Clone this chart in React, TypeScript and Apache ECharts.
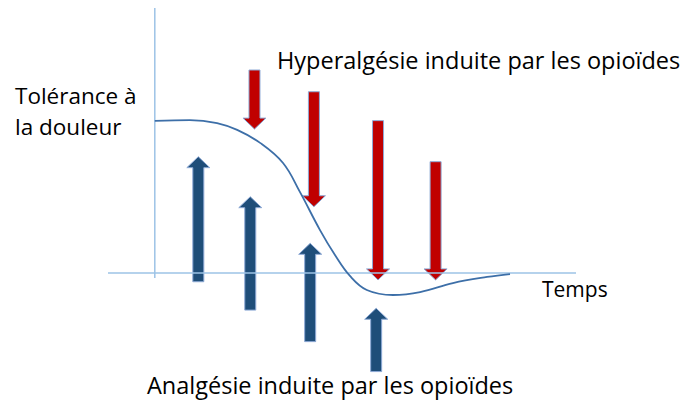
import React, { useEffect, useRef } from "react";
import * as echarts from "echarts";

// Curve: tolerance to pain over time (x: time units, y: tolerance units)
const curveTime = [0, 0.75, 1.33, 1.76, 2.25, 2.74, 3.1, 3.53, 3.85, 4.17, 4.53, 5.09, 5.67, 6.37, 7.1, 7.59];
const curveTolerance = [5.74, 5.77, 5.66, 5.4, 4.91, 4.15, 3.06, 1.62, 0.68, -0.11, -0.64, -0.83, -0.72, -0.38, -0.15, -0.04];

// Red arrows (hyperalgesia): x, start (top), tip (bottom)
const redX = [2.13, 3.4, 4.77, 6.0];
const redStart = [7.66, 6.84, 5.75, 4.2];
const redTip = [5.43, 2.5, -0.26, -0.26];

// Blue arrows (analgesia): x, start (bottom), tip (top)
const blueX = [0.93, 2.04, 3.32, 4.73];
const blueStart = [-0.33, -1.4, -2.59, -3.72];
const blueTip = [4.39, 2.88, 1.12, -1.33];

// Axes extents
const timeAxisRange = [-1, 9];
const toleranceAxisRange = [-0.19, 10];

const FONT = "'Open Sans', sans-serif";

function arrowRenderer(fill: string) {
  return (params: any, api: any) => {
    const x = api.value(0);
    const s = api.coord([x, api.value(1)]);
    const t = api.coord([x, api.value(2)]);
    const cx = s[0];
    const dir = t[1] > s[1] ? 1 : -1;
    const w = 11;
    const hw = 23;
    const hl = 11;
    const hb = t[1] - dir * hl;
    const points = [
      [cx - w / 2, s[1]],
      [cx + w / 2, s[1]],
      [cx + w / 2, hb],
      [cx + hw / 2, hb],
      [cx, t[1]],
      [cx - hw / 2, hb],
      [cx - w / 2, hb],
    ];
    return {
      type: "polygon",
      shape: { points },
      style: { fill, stroke: "#8eaad6", lineWidth: 1 },
    };
  };
}

export default function App() {
  const ref = useRef<HTMLDivElement>(null);
  useEffect(() => {
    if (!ref.current) return;
    const chart = echarts.init(ref.current, undefined, { renderer: "svg" });
    const axisColor = "#9dc3e6";
    chart.setOption({
      animation: false,
      backgroundColor: "#ffffff",
      grid: { left: 108, top: 8, width: 468, height: 371 },
      xAxis: { type: "value", min: -1, max: 9, show: false },
      yAxis: { type: "value", min: -4, max: 10, show: false },
      series: [
        {
          type: "line",
          data: [[0, toleranceAxisRange[1]], [0, toleranceAxisRange[0]]],
          symbol: "none",
          silent: true,
          lineStyle: { color: axisColor, width: 1.5 },
        },
        {
          type: "line",
          data: [[timeAxisRange[0], 0], [timeAxisRange[1], 0]],
          symbol: "none",
          silent: true,
          lineStyle: { color: axisColor, width: 1.5 },
        },
        {
          type: "line",
          data: curveTime.map((t, i) => [t, curveTolerance[i]]),
          smooth: 0.4,
          symbol: "none",
          silent: true,
          lineStyle: { color: "#3d6fa8", width: 1.8 },
        },
        {
          type: "custom",
          renderItem: arrowRenderer("#c00000"),
          data: redX.map((x, i) => [x, redStart[i], redTip[i]]),
          encode: { x: 0, y: [1, 2] },
          silent: true,
        },
        {
          type: "custom",
          renderItem: arrowRenderer("#1f4e79"),
          data: blueX.map((x, i) => [x, blueStart[i], blueTip[i]]),
          encode: { x: 0, y: [1, 2] },
          silent: true,
        },
      ],
      graphic: [
        {
          type: "text",
          left: 277,
          top: 48,
          style: { text: "Hyperalgésie induite par les opioïdes", font: `23.5px ${FONT}`, fill: "#000" },
        },
        {
          type: "text",
          left: 15,
          top: 80,
          style: { text: "Tolérance à\nla douleur", font: `22.5px ${FONT}`, fill: "#000", lineHeight: 31 },
        },
        {
          type: "text",
          left: 542,
          top: 278,
          style: { text: "Temps", font: `21px ${FONT}`, fill: "#000" },
        },
        {
          type: "text",
          left: 147,
          top: 373,
          style: { text: "Analgésie induite par les opioïdes", font: `23.5px ${FONT}`, fill: "#000" },
        },
      ],
    });
    return () => chart.dispose();
  }, []);
  return (
    <div
      ref={ref}
      style={{ position: "fixed", left: 0, top: 0, width: 683, height: 401 }}
    />
  );
}
